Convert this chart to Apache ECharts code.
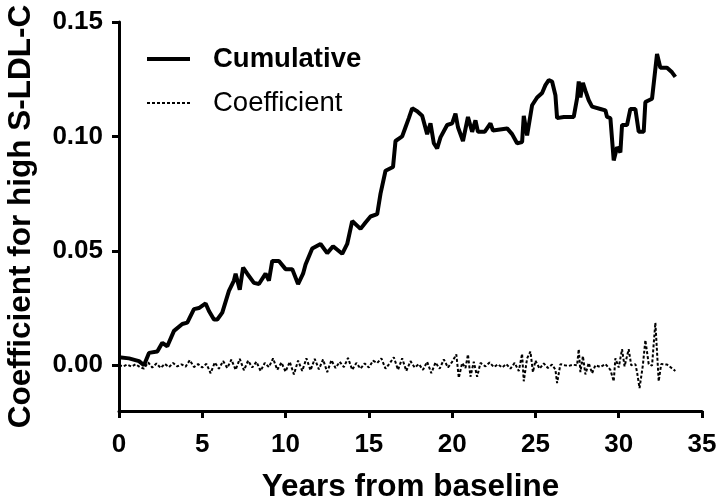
<!DOCTYPE html>
<html>
<head>
<meta charset="utf-8">
<script src="https://cdn.jsdelivr.net/npm/echarts@6/dist/echarts.min.js"></script>
<style>html,body{margin:0;padding:0;background:#fff}#c{width:720px;height:500px}</style>
</head>
<body>
<div id="c"></div>
<script>
var seriesNames = ['Cumulative', 'Coefficient'];
var xTicks = [0, 5, 10, 15, 20, 25, 30, 35];
var yTicks = [0, 0.05, 0.10, 0.15];

var cumYears = [0,0.6,1.2,1.5,1.8,2.3,2.6,2.9,3.3,3.8,4.1,4.5,4.8,5.2,5.4,5.7,5.9,6.2,6.6,6.9,7.0,7.25,7.45,7.7,8.1,8.4,8.8,9.0,9.2,9.6,10.0,10.4,10.75,11.05,11.2,11.6,12.1,12.5,12.85,13.4,13.7,14.0,14.5,14.8,15.1,15.5,15.7,16.0,16.45,16.6,17.0,17.2,17.4,17.6,17.9,18.2,18.5,18.7,18.9,19.1,19.3,19.7,20.0,20.2,20.35,20.65,20.95,21.2,21.4,21.55,21.95,22.3,22.45,23.3,23.6,23.9,24.2,24.3,24.5,24.8,25.1,25.4,25.6,25.8,26.0,26.2,26.3,26.7,27.3,27.5,27.6,27.7,27.85,28.0,28.2,28.4,28.9,29.2,29.3,29.5,29.7,29.9,30.1,30.2,30.5,30.7,31.0,31.2,31.5,31.6,32.0,32.3,32.5,32.9,33.2,33.4];
var cumValues = [0.0035,0.003,0.0018,0,0.0054,0.006,0.0098,0.0083,0.015,0.018,0.0186,0.0245,0.025,0.027,0.0237,0.020,0.020,0.023,0.0325,0.037,0.040,0.033,0.0427,0.040,0.036,0.0355,0.040,0.037,0.0456,0.0456,0.042,0.042,0.0355,0.040,0.044,0.051,0.053,0.049,0.052,0.0487,0.053,0.063,0.0596,0.0624,0.065,0.066,0.075,0.085,0.0866,0.098,0.100,0.104,0.108,0.1123,0.111,0.109,0.101,0.1057,0.097,0.0947,0.0996,0.105,0.1057,0.110,0.104,0.098,0.1085,0.102,0.107,0.102,0.102,0.1057,0.1026,0.1035,0.101,0.097,0.0975,0.109,0.1004,0.1136,0.117,0.119,0.1224,0.1246,0.124,0.118,0.108,0.1085,0.1085,0.1166,0.124,0.117,0.1234,0.120,0.1158,0.113,0.112,0.1114,0.1085,0.108,0.0895,0.0953,0.093,0.105,0.105,0.112,0.112,0.102,0.102,0.115,0.1165,0.136,0.130,0.130,0.128,0.126];

var coefYears = [0,0.25,0.5,0.75,1.0,1.25,1.5,1.75,2.0,2.25,2.5,2.75,3.0,3.25,3.5,3.75,4.0,4.25,4.5,4.75,5.0,5.25,5.5,5.75,6.0,6.25,6.5,6.75,7.0,7.25,7.5,7.75,8.0,8.25,8.5,8.75,9.0,9.25,9.5,9.75,10.0,10.25,10.5,10.75,11.0,11.25,11.5,11.75,12.0,12.25,12.5,12.75,13.0,13.25,13.5,13.75,14.0,14.25,14.5,14.75,15.0,15.25,15.5,15.75,16.0,16.25,16.5,16.75,17.0,17.25,17.5,17.75,18.0,18.25,18.5,18.75,19.0,19.25,19.5,19.75,20.0,20.25,20.4,20.6,20.8,20.95,21.1,21.3,21.5,21.7,22.0,22.25,22.5,22.75,23.0,23.25,23.5,23.75,24.0,24.2,24.3,24.5,24.7,24.85,25.0,25.25,25.5,25.75,26.0,26.2,26.3,26.5,26.75,27.0,27.25,27.5,27.6,27.7,27.85,28.0,28.2,28.4,28.6,28.9,29.2,29.5,29.7,29.8,30.0,30.2,30.35,30.6,30.75,31.0,31.1,31.25,31.45,31.6,31.8,32.0,32.2,32.4,32.55,32.9,33.4];
var coefValues = [0.0000,-0.0005,0.0003,-0.0006,0.0004,-0.0008,-0.0015,0.0012,-0.0010,0.0008,-0.0012,0.0006,-0.0008,0.0010,-0.0005,0.0004,-0.0006,0.0022,-0.0008,0.0005,-0.0010,0.0006,-0.0035,0.0012,-0.0015,0.0018,-0.0012,0.0025,-0.0020,0.0028,-0.0022,0.0020,-0.0010,0.0015,-0.0025,0.0010,-0.0008,0.0030,-0.0020,0.0012,-0.0028,0.0015,-0.0040,0.0020,-0.0025,0.0030,-0.0022,0.0028,-0.0018,0.0025,-0.0030,0.0022,-0.0012,0.0015,-0.0008,0.0032,-0.0020,0.0010,-0.0015,0.0008,-0.0010,0.0020,0.0010,0.0030,-0.0015,0.0008,0.0035,-0.0020,0.0030,-0.0025,0.0018,-0.0010,0.0005,-0.0020,0.0015,-0.0035,0.0012,-0.0015,0.0025,-0.0010,0.0015,0.0047,-0.0055,0.0010,-0.0012,0.0047,-0.0050,0.0015,-0.0050,0.0010,-0.0005,0.0012,-0.0008,0.0004,-0.0010,0.0005,-0.0015,0.0010,-0.0025,0.0050,-0.0070,0.0030,0.0060,-0.0030,0.0020,-0.0015,0.0008,-0.0012,0.0003,-0.0020,-0.0078,0.0005,0.0000,-0.0003,0.0002,0.0000,0.0070,-0.0030,0.0040,-0.0040,0.0010,-0.0035,0.0000,-0.0008,0.0005,-0.0020,-0.0070,0.0030,-0.0010,0.0070,-0.0005,0.0070,0.0000,0.0005,-0.0030,-0.0100,0.0000,0.0110,0.0005,-0.0002,0.0186,-0.0070,0.0005,0.0003,-0.0025];

function pairs(xs, ys) { return xs.map(function (x, i) { return [x, ys[i]]; }); }

var FONT = '"Liberation Sans", Arial, Helvetica, sans-serif';
var chart = echarts.init(document.getElementById('c'), null, { renderer: 'canvas' });
chart.setOption({
  animation: false,
  backgroundColor: '#ffffff',
  textStyle: { fontFamily: FONT, color: '#000' },
  grid: { left: 119, right: 18, top: 22, bottom: 89, containLabel: false, outerBoundsMode: 'none' },
  legend: {
    orient: 'vertical',
    left: 145,
    top: 45,
    padding: 0,
    itemWidth: 43,
    itemHeight: 24,
    itemGap: 16,
    itemStyle: { opacity: 0 },
    data: [
      { name: seriesNames[0], lineStyle: { width: 4, color: '#000' },
        textStyle: { fontWeight: 'bold', fontSize: 27.5, color: '#000', fontFamily: FONT, padding: [0, 0, 0, 18] } },
      { name: seriesNames[1], lineStyle: { width: 2, color: '#000', type: [3, 2] },
        textStyle: { fontWeight: 'normal', fontSize: 27.5, color: '#000', fontFamily: FONT, padding: [0, 0, 0, 18] } }
    ]
  },
  xAxis: {
    type: 'value',
    min: 0, max: 35, interval: 5,
    name: 'Years from baseline',
    nameLocation: 'middle',
    nameGap: 60,
    nameTextStyle: { fontSize: 31.5, fontWeight: 'bold', color: '#000', fontFamily: FONT },
    axisLine: { show: true, onZero: false, lineStyle: { color: '#000', width: 3 } },
    axisTick: { show: true, length: 7, lineStyle: { color: '#000', width: 3 }, customValues: xTicks },
    axisLabel: { fontSize: 26, fontWeight: 'bold', color: '#000', margin: 21, fontFamily: FONT, customValues: xTicks },
    splitLine: { show: false }
  },
  yAxis: {
    type: 'value',
    min: -0.02, max: 0.15,
    name: 'Coefficient for high S-LDL-C',
    nameLocation: 'middle',
    nameGap: 82,
    nameTextStyle: { fontSize: 31.5, fontWeight: 'bold', color: '#000', fontFamily: FONT },
    axisLine: { show: true, onZero: false, lineStyle: { color: '#000', width: 3 } },
    axisTick: { show: true, length: 7, lineStyle: { color: '#000', width: 3 }, customValues: yTicks },
    axisLabel: { fontSize: 26, fontWeight: 'bold', color: '#000', margin: 16, fontFamily: FONT, customValues: yTicks,
      formatter: function (v) { return v.toFixed(2); } },
    splitLine: { show: false }
  },
  series: [
    {
      name: seriesNames[0], type: 'line', data: pairs(cumYears, cumValues),
      symbol: 'none', lineStyle: { color: '#000', width: 4 }, itemStyle: { color: '#000' }, z: 3
    },
    {
      name: seriesNames[1], type: 'line', data: pairs(coefYears, coefValues),
      symbol: 'none', lineStyle: { color: '#000', width: 2, type: [3, 2] }, itemStyle: { color: '#000' }, z: 2
    }
  ]
});
</script>
</body>
</html>
